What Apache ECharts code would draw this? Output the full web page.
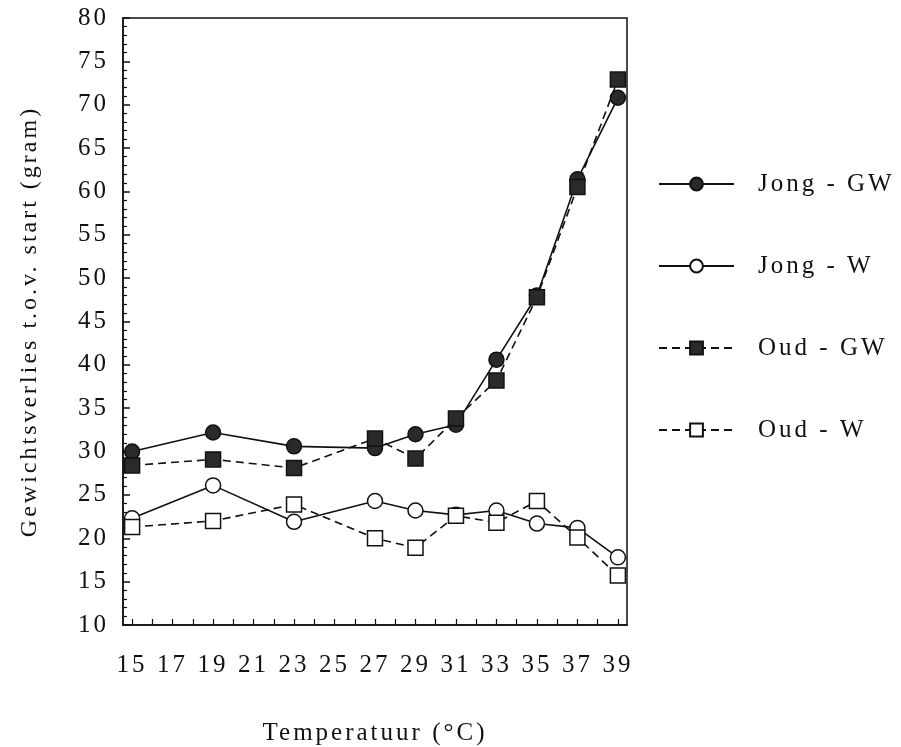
<!DOCTYPE html>
<html>
<head>
<meta charset="utf-8">
<script src="https://cdn.jsdelivr.net/npm/echarts@6/dist/echarts.min.js"></script>
<style>
  html, body { margin: 0; padding: 0; background: #fff; }
  #chart { width: 901px; height: 747px; }
</style>
</head>
<body>
<div id="chart"></div>
<script>
// Temperatures (°C) at which weight loss was measured
const temperatures = [15, 19, 23, 27, 29, 31, 33, 35, 37, 39];

// Weight loss relative to start (gram)
const jongGW = [30.0, 32.2, 30.6, 30.4, 32.0, 33.1, 40.6, 48.0, 61.4, 70.8];
const jongW  = [22.3, 26.1, 21.9, 24.3, 23.2, 22.7, 23.2, 21.7, 21.2, 17.8];
const oudGW  = [28.4, 29.1, 28.1, 31.5, 29.2, 33.8, 38.2, 47.8, 60.5, 72.9];
const oudW   = [21.3, 22.0, 23.9, 20.0, 18.9, 22.6, 21.8, 24.3, 20.1, 15.7];

const seriesNames = ['Jong - GW', 'Jong - W', 'Oud - GW', 'Oud - W'];

// Axis tick labels
const xLabels = [15, 17, 19, 21, 23, 25, 27, 29, 31, 33, 35, 37, 39];
const xTicks  = [15, 16, 17, 18, 19, 20, 21, 22, 23, 24, 25, 26, 27, 28, 29, 30, 31, 32, 33, 34, 35, 36, 37, 38, 39];

// Slightly tracked lettering for all chart text (applied to drawing and measuring alike)
(function () {
  const proto = CanvasRenderingContext2D.prototype;
  const tracking = '3px';
  const fill = proto.fillText, stroke = proto.strokeText, measure = proto.measureText;
  proto.fillText = function () { this.letterSpacing = tracking; return fill.apply(this, arguments); };
  proto.strokeText = function () { this.letterSpacing = tracking; return stroke.apply(this, arguments); };
  proto.measureText = function () { this.letterSpacing = tracking; return measure.apply(this, arguments); };
})();

const pair = vals => temperatures.map((t, i) => [t, vals[i]]);
const serif = '"Liberation Serif", "DejaVu Serif", serif';
const ink = '#111';
const fs = 25;

function makeSeries(name, vals, symbol, filled, dashed) {
  return {
    name: name,
    type: 'line',
    data: pair(vals),
    symbol: symbol,
    symbolSize: 15,
    showSymbol: true,
    animation: false,
    lineStyle: { color: ink, width: 1.6, type: dashed ? [8, 5] : 'solid' },
    itemStyle: {
      color: filled ? '#2a2a2a' : '#fff',
      borderColor: ink,
      borderWidth: 1.5
    },
    emphasis: { disabled: true },
    z: filled ? 3 : 2
  };
}

const chart = echarts.init(document.getElementById('chart'), null, { renderer: 'canvas' });
chart.setOption({
  backgroundColor: '#fff',
  animation: false,
  grid: {
    left: 123, top: 18, right: 274, bottom: 122,
    outerBoundsMode: 'none',
    containLabel: false,
    show: true, borderColor: ink, borderWidth: 1.5, backgroundColor: 'transparent'
  },
  legend: {
    orient: 'vertical',
    left: 653,
    top: 165,
    itemWidth: 75,
    itemHeight: 16,
    itemGap: 54,
    selectedMode: false,
    textStyle: { fontFamily: serif, fontSize: fs, color: ink, padding: [0, 0, 0, 19] },
    data: seriesNames
  },
  xAxis: {
    type: 'value',
    min: 14.55,
    max: 39.45,
    name: 'Temperatuur (°C)',
    nameLocation: 'middle',
    nameGap: 94,
    nameTextStyle: { fontFamily: serif, fontSize: fs, color: ink },
    axisLine: { show: true, lineStyle: { color: ink, width: 1.5 } },
    axisTick: { show: true, inside: true, length: 6, lineStyle: { color: ink, width: 1.2 }, customValues: xTicks },
    axisLabel: { fontFamily: serif, fontSize: fs, color: ink, margin: 26, customValues: xLabels },
    splitLine: { show: false }
  },
  yAxis: {
    type: 'value',
    min: 10,
    max: 80,
    interval: 5,
    name: 'Gewichtsverlies t.o.v. start (gram)',
    nameLocation: 'middle',
    nameGap: 80,
    nameTextStyle: { fontFamily: serif, fontSize: 24, color: ink },
    axisLine: { show: true, lineStyle: { color: ink, width: 1.5 } },
    axisTick: { show: true, inside: true, length: 7, lineStyle: { color: ink, width: 1.5 } },
    minorTick: { show: true, splitNumber: 5, length: 4, lineStyle: { color: ink, width: 1.2 } },
    axisLabel: { fontFamily: serif, fontSize: fs, color: ink, margin: 14 },
    splitLine: { show: false },
    minorSplitLine: { show: false }
  },
  series: [
    makeSeries('Jong - GW', jongGW, 'circle', true, false),
    makeSeries('Jong - W', jongW, 'circle', false, false),
    makeSeries('Oud - GW', oudGW, 'rect', true, true),
    makeSeries('Oud - W', oudW, 'rect', false, true)
  ]
});
</script>
</body>
</html>
